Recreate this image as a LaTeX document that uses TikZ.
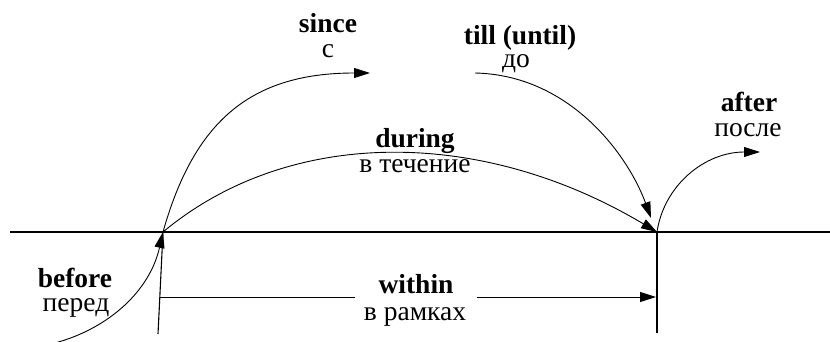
\documentclass[tikz,border=0pt]{standalone}
\usepackage{fontspec}
\setmainfont{Liberation Serif}
\usetikzlibrary{arrows.meta}
\definecolor{ink}{HTML}{000000}
\definecolor{paper}{HTML}{FFFFFF}
\tikzset{
  axisLine/.style={draw=ink, line width=1.2pt},
  tickLine/.style={draw=ink, line width=1.1pt},
  arcLine/.style={draw=ink, line width=0.9pt},
  arcArrow/.style={arcLine, -{Triangle[length=16pt,width=10pt]}},
  termLbl/.style={anchor=base, inner sep=0pt, text=ink, font=\fontsize{27.5}{25}\selectfont\bfseries},
  ruLbl/.style={anchor=base, inner sep=0pt, text=ink, font=\fontsize{27.5}{25}\selectfont},
}

\begin{document}
\begin{tikzpicture}[x=1pt, y=-1pt]
  \useasboundingbox[fill=paper] (0,0) rectangle (830,342);

  % time axis and the two moments
  \coordinate (axisL) at (10,232);
  \coordinate (axisR) at (830,232);
  \coordinate (startPt) at (163,232);
  \coordinate (endPt) at (657,232);
  \coordinate (startFoot) at (158,334);
  \coordinate (endFoot) at (657,333);

  \draw[axisLine] (axisL) -- (axisR);
  \draw[tickLine] (startFoot) -- (startPt);
  \draw[tickLine] (endPt) -- (endFoot);

  % free ends of the arcs
  \coordinate (beforeStart) at (55,343);
  \coordinate (sinceEnd) at (370,73);
  \coordinate (tillStart) at (475,73);
  \coordinate (tillEnd) at (651,218);
  \coordinate (afterEnd) at (760,152);
  \coordinate (withinL) at (160,297);
  \coordinate (withinGapL) at (355,297);
  \coordinate (withinGapR) at (477,297);
  \coordinate (withinR) at (656,297);

  \draw[arcArrow] (beforeStart) .. controls (110,328) and (150,290) .. (startPt);
  \draw[arcArrow] (startPt) .. controls (194,122) and (250,73) .. (sinceEnd);
  \draw[arcArrow] (startPt) .. controls (289,127) and (481,127) .. (endPt);
  \draw[arcArrow] (tillStart) .. controls (570,75) and (628,155) .. (tillEnd);
  \draw[arcArrow] (endPt) .. controls (664,185) and (705,152) .. (afterEnd);
  \draw[arcLine] (withinL) -- (withinGapL);
  \draw[arcArrow] (withinGapR) -- (withinR);

  % labels: English term over its Russian match
  \node[termLbl] (before) at (75,287) {before};
  \node[ruLbl] (beforeRu) at (76,311) {перед};
  \node[termLbl] (since) at (328,33) {since};
  \node[ruLbl] (sinceRu) at (328,58) {с};
  \node[termLbl] (till) at (520,45) {till (until)};
  \node[ruLbl] (tillRu) at (516,68) {до};
  \node[termLbl] (during) at (415,147) {during};
  \node[ruLbl] (duringRu) at (415,172) {в течение};
  \node[termLbl] (after) at (749,112) {after};
  \node[ruLbl] (afterRu) at (748,137) {после};
  \node[termLbl] (within) at (416,293) {within};
  \node[ruLbl] (withinRu) at (415,320) {в рамках};
\end{tikzpicture}
\end{document}
